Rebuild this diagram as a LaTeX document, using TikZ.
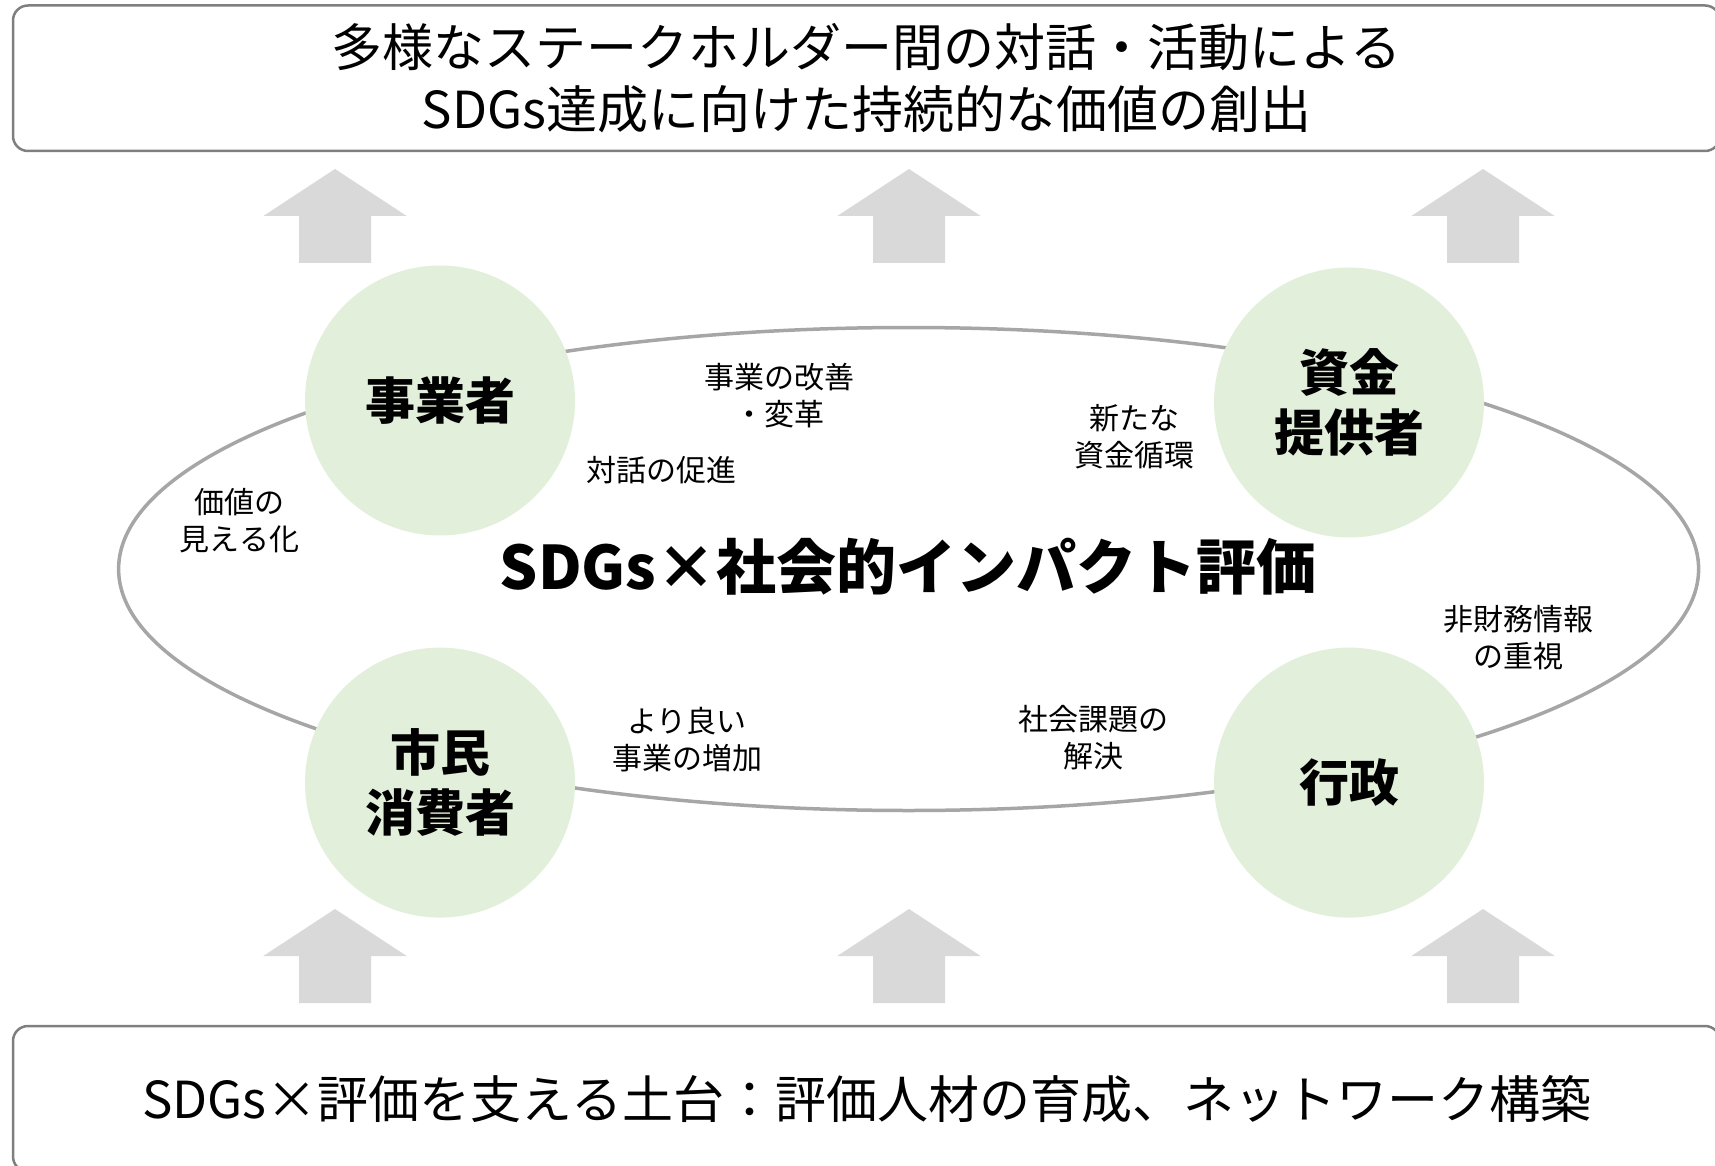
\documentclass[tikz,border=0pt]{standalone}
\usepackage{fontspec}
\setmainfont{Noto Sans CJK JP}
\usetikzlibrary{shapes.geometric}
\definecolor{circ}{HTML}{E2EFDA}
\definecolor{arr}{HTML}{D9D9D9}
\definecolor{ring}{HTML}{A6A6A6}
\definecolor{frame}{HTML}{7F7F7F}
\begin{document}
\begin{tikzpicture}[x=1pt,y=-1pt,
  actor/.style={circle, fill=circ, minimum size=270pt, inner sep=0pt, align=center,
    font=\fontsize{50}{60}\selectfont\bfseries},
  lbl/.style={font=\fontsize{30}{37}\selectfont, align=center, inner sep=0pt},
  panel/.style={draw=frame, line width=2.5pt, rounded corners=15pt, align=center,
    minimum width=1707pt, minimum height=145.5pt, inner sep=0pt,
    font=\fontsize{51}{62}\selectfont},
  uparrow/.style={fill=arr}]
\useasboundingbox (0,0) rectangle (1715,1166);
\clip (0,0) rectangle (1715,1166);
% panels
\node[panel] (goal) at (866.5,78.25) {多様なステークホルダー間の対話・活動による\\SDGs達成に向けた持続的な価値の創出};
\node[panel] (base) at (866.5,1098.75) {SDGs×評価を支える土台：評価人材の育成、ネットワーク構築};
% arrows
\foreach \ax in {335,909,1483}{
  \foreach \ay in {169,909}{
    \fill[uparrow] (\ax,\ay) -- ++(71.7,47) -- ++(-35.7,0) -- ++(0,47) -- ++(-72,0) -- ++(0,-47) -- ++(-35.7,0) -- cycle;
  }
}
% ring
\node[ellipse, draw=ring, line width=3.5pt, minimum width=1580pt, minimum height=483pt, inner sep=0pt] (ring) at (908.6,569) {};
% actors
\node[actor] (biz) at (440,400.5) {事業者};
\node[actor] (fund) at (1349,402.5) {資金\\提供者};
\node[actor] (citizen) at (440,782.6) {市民\\消費者};
\node[actor] (gov) at (1349,782.6) {行政};
% title
\node[font=\fontsize{60}{70}\selectfont\bfseries, inner sep=0pt] (title) at (908,567) {SDGs×社会的インパクト評価};
% labels
\node[lbl] (l1) at (779,396) {事業の改善\\・変革};
\node[lbl] (l2) at (661,470) {対話の促進};
\node[lbl] (l3) at (1134,436.5) {新たな\\資金循環};
\node[lbl] (l4) at (239.5,521) {価値の\\見える化};
\node[lbl] (l5) at (1518,638) {非財務情報\\の重視};
\node[lbl] (l6) at (1093,737.3) {社会課題の\\解決};
\node[lbl] (l7) at (687,739.5) {より良い\\事業の増加};
\end{tikzpicture}
\end{document}
